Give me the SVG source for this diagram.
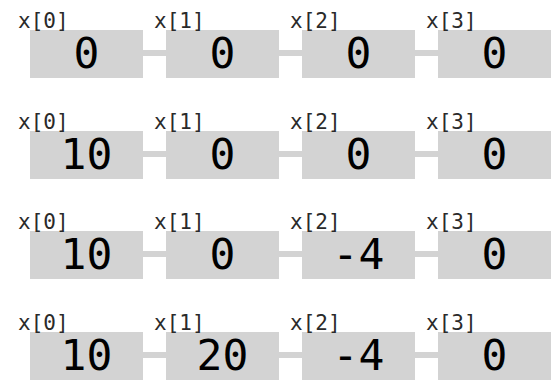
<svg xmlns="http://www.w3.org/2000/svg" width="552" height="381" viewBox="0 0 552 381">
<style>
.box{fill:#d3d3d3}
.con{stroke:#d3d3d3;stroke-width:6}
.lbl{font-family:"DejaVu Sans Mono",monospace;font-size:21px;fill:#2a2a2a}
.val{font-family:"DejaVu Sans Mono",monospace;font-size:43px;fill:#000;text-anchor:middle}
</style>
<rect width="552" height="381" fill="#fff"/>
<g id="connectors">
<line class="con" x1="143" y1="53" x2="166" y2="53"/><line class="con" x1="279" y1="53" x2="302" y2="53"/><line class="con" x1="415" y1="53" x2="438" y2="53"/>
<line class="con" x1="143" y1="154" x2="166" y2="154"/><line class="con" x1="279" y1="154" x2="302" y2="154"/><line class="con" x1="415" y1="154" x2="438" y2="154"/>
<line class="con" x1="143" y1="254" x2="166" y2="254"/><line class="con" x1="279" y1="254" x2="302" y2="254"/><line class="con" x1="415" y1="254" x2="438" y2="254"/>
<line class="con" x1="143" y1="355" x2="166" y2="355"/><line class="con" x1="279" y1="355" x2="302" y2="355"/><line class="con" x1="415" y1="355" x2="438" y2="355"/>
</g>
<g id="r1c0"><rect class="box" x="30" y="30" width="113" height="48"/><text class="lbl" x="18" y="28">x[0]</text><text class="val" x="86.5" y="68">0</text></g>
<g id="r1c1"><rect class="box" x="166" y="30" width="113" height="48"/><text class="lbl" x="154" y="28">x[1]</text><text class="val" x="222.5" y="68">0</text></g>
<g id="r1c2"><rect class="box" x="302" y="30" width="113" height="48"/><text class="lbl" x="290" y="28">x[2]</text><text class="val" x="358.5" y="68">0</text></g>
<g id="r1c3"><rect class="box" x="438" y="30" width="113" height="48"/><text class="lbl" x="426" y="28">x[3]</text><text class="val" x="494.5" y="68">0</text></g>
<g id="r2c0"><rect class="box" x="30" y="131" width="113" height="48"/><text class="lbl" x="18" y="129">x[0]</text><text class="val" x="86.5" y="169">10</text></g>
<g id="r2c1"><rect class="box" x="166" y="131" width="113" height="48"/><text class="lbl" x="154" y="129">x[1]</text><text class="val" x="222.5" y="169">0</text></g>
<g id="r2c2"><rect class="box" x="302" y="131" width="113" height="48"/><text class="lbl" x="290" y="129">x[2]</text><text class="val" x="358.5" y="169">0</text></g>
<g id="r2c3"><rect class="box" x="438" y="131" width="113" height="48"/><text class="lbl" x="426" y="129">x[3]</text><text class="val" x="494.5" y="169">0</text></g>
<g id="r3c0"><rect class="box" x="30" y="231" width="113" height="48"/><text class="lbl" x="18" y="229">x[0]</text><text class="val" x="86.5" y="269">10</text></g>
<g id="r3c1"><rect class="box" x="166" y="231" width="113" height="48"/><text class="lbl" x="154" y="229">x[1]</text><text class="val" x="222.5" y="269">0</text></g>
<g id="r3c2"><rect class="box" x="302" y="231" width="113" height="48"/><text class="lbl" x="290" y="229">x[2]</text><text class="val" x="358.5" y="269">-4</text></g>
<g id="r3c3"><rect class="box" x="438" y="231" width="113" height="48"/><text class="lbl" x="426" y="229">x[3]</text><text class="val" x="494.5" y="269">0</text></g>
<g id="r4c0"><rect class="box" x="30" y="332" width="113" height="48"/><text class="lbl" x="18" y="330">x[0]</text><text class="val" x="86.5" y="370">10</text></g>
<g id="r4c1"><rect class="box" x="166" y="332" width="113" height="48"/><text class="lbl" x="154" y="330">x[1]</text><text class="val" x="222.5" y="370">20</text></g>
<g id="r4c2"><rect class="box" x="302" y="332" width="113" height="48"/><text class="lbl" x="290" y="330">x[2]</text><text class="val" x="358.5" y="370">-4</text></g>
<g id="r4c3"><rect class="box" x="438" y="332" width="113" height="48"/><text class="lbl" x="426" y="330">x[3]</text><text class="val" x="494.5" y="370">0</text></g>
</svg>
